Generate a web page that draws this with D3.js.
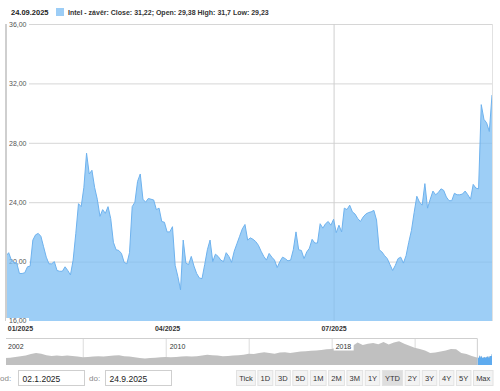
<!DOCTYPE html>
<html>
<head>
<meta charset="utf-8">
<style>
  body { margin: 0; background: #fff; }
  svg { display: block; font-family: "Liberation Sans", Arial, sans-serif; }
  .grid line { stroke: #d6d6d6; }
  .ylab { font-size: 7px; fill: #555; }
  .xlab { font-size: 7px; fill: #333; font-weight: bold; }
</style>
<script src="https://cdn.jsdelivr.net/npm/d3@7/dist/d3.min.js"></script>
</head>
<body>
<svg id="chart" width="500" height="391"></svg>
<script>
// daily closes, 2.1.2025 .. 24.9.2025 (trading days)
var closes = [
  20.37, 20.6, 20.1, 19.95, 19.9, 19.2, 19.2, 19.25, 19.65, 19.7,
  21.45, 21.8, 21.9, 21.7, 21.0, 20.3, 19.85, 19.85, 20.0, 19.4,
  19.35, 19.35, 19.65, 19.4, 19.1, 20.1, 21.9, 23.9, 23.7, 25.0,
  27.3, 25.9, 26.15, 25.0, 24.2, 23.05, 23.5, 23.25, 23.7, 22.9,
  21.3, 20.8, 20.75, 20.55, 19.95, 19.85, 20.6, 23.7, 24.0, 25.4,
  25.9, 24.2, 24.0, 24.25, 24.2, 24.15, 23.5, 23.6, 22.7, 22.65,
  22.0, 22.0, 22.35, 19.75, 19.0, 18.1, 21.45, 19.9, 19.8, 20.35,
  19.7, 19.2, 18.9, 18.85, 19.8, 20.8, 21.45, 20.0, 20.5, 20.35,
  20.1, 20.0, 20.6, 20.35, 19.95, 20.7, 21.2, 21.7, 22.2, 22.5,
  21.45, 21.6, 21.5, 21.35, 21.1, 20.7, 20.35, 20.1, 20.55, 20.3,
  20.1, 19.6, 20.0, 20.3, 20.2, 20.05, 20.1, 20.8, 22.0, 20.8,
  20.75, 20.2, 20.65, 20.9, 21.5, 21.25, 21.25, 22.55, 22.25, 22.55,
  22.7, 22.45, 22.85, 21.95, 22.45, 22.0, 23.6, 23.5, 23.8, 23.35,
  23.2, 22.9, 22.7, 23.0, 23.2, 23.3, 23.35, 23.45, 22.8, 20.8,
  20.65, 20.4, 20.2, 19.8, 19.4, 19.75, 20.2, 20.3, 19.9, 20.4,
  21.3, 22.1, 23.3, 24.4, 24.0, 23.8, 25.25, 23.6, 24.2, 24.75,
  24.5, 24.65, 24.9, 24.8, 24.35, 24.1, 24.1, 24.6, 24.5, 24.5,
  24.55, 24.75, 24.5, 24.2, 25.2, 24.95, 24.9, 30.57, 29.58, 29.34,
  28.76, 31.22
];
var monthLabels = ["01/2025", "04/2025", "07/2025"];
var monthStartIdx = [0, 60, 122];
var vGridIdx = [0, 122];
var yTicks = [16, 20, 24, 28, 32, 36];

// navigator history, quarterly from 2002.25 to 2024.75
var navValues = [
  19, 20, 22,
  24, 26, 30, 33,  31, 27, 25, 26,  25, 26, 25, 23,  21, 22, 23, 24,
  23, 25, 26, 27,  24, 23, 21, 19,  18, 19, 20, 21,  22, 21, 22, 23,
  24, 23, 24, 26,  28, 27, 26, 24,  25, 26, 27, 28,  31, 30, 33, 35,
  33, 31, 34, 35,  33, 35, 37, 38,  39, 40, 41, 43,  44, 48, 50, 49,
  52, 62, 55, 58,  60, 57, 63, 56,  62, 65, 58, 53,  47, 44, 40, 33,
  34, 37, 40, 44,  43, 33, 30, 25
];
var navYears = d3.range(navValues.length).map(function(i) { return 2002.25 + i * 0.25; });
var navLabelYears = [2002, 2010, 2018];
var navGridYears = [2006, 2010, 2014, 2018, 2022];

var headerDate = "24.09.2025";
var legendText = "Intel - závěr: Close: 31,22; Open: 29,38 High: 31,7 Low: 29,23";
var dateFrom = "02.1.2025", dateTo = "24.9.2025";
var rangeButtons = ["Tick", "1D", "3D", "5D", "1M", "2M", "3M", "1Y", "YTD", "2Y", "3Y", "4Y", "5Y", "Max"];
var activeButton = "YTD";

var svg = d3.select("#chart");
var fmt = d3.formatLocale({decimal: ",", thousands: " ", grouping: [3], currency: ["", ""]}).format(".2f");

// ---- header
svg.append("text").attr("x", 11).attr("y", 14.5)
  .style("font-size", "7.5px").style("font-weight", "bold").attr("fill", "#222")
  .text(headerDate);
svg.append("rect").attr("x", 56).attr("y", 8).attr("width", 8).attr("height", 8).attr("fill", "#9ccdf6");
svg.append("text").attr("x", 68).attr("y", 14.5)
  .style("font-size", "7px").style("font-weight", "bold").attr("fill", "#333")
  .text(legendText);

// ---- main chart
var x = d3.scaleLinear().domain([0, closes.length - 1]).range([6, 492]);
var y = d3.scaleLinear().domain([16, 36]).range([321, 24]);

var area = d3.area()
  .x(function(d, i) { return x(i); })
  .y0(y(16))
  .y1(function(d) { return y(d); });
var line = d3.line()
  .x(function(d, i) { return x(i); })
  .y(function(d) { return y(d); });

// horizontal grid + labels
var yAxis = svg.append("g").attr("class", "grid").attr("transform", "translate(29,0)")
  .call(d3.axisRight(y).tickValues(yTicks).tickSize(463).tickFormat(fmt));
yAxis.select(".domain").remove();
yAxis.selectAll("text").attr("class", "ylab").attr("x", -20).attr("dy", "0.32em").style("text-anchor", "start");
yAxis.selectAll(".tick line").attr("stroke", "#d6d6d6");

// vertical grid
svg.append("g").selectAll("line").data(vGridIdx).enter().append("line")
  .attr("x1", function(d) { return x(d) + 0.5; }).attr("x2", function(d) { return x(d) + 0.5; })
  .attr("y1", y(36)).attr("y2", y(16))
  .attr("stroke", "#cfcfcf");

svg.append("path").datum(closes).attr("d", area)
  .attr("fill", "#7cbdf3").attr("fill-opacity", 0.75);
svg.append("path").datum(closes).attr("d", line)
  .attr("fill", "none").attr("stroke", "#6eb2ee").attr("stroke-width", 1);

// borders
svg.append("line").attr("x1", 6).attr("x2", 6).attr("y1", y(36)).attr("y2", y(16))
  .attr("stroke", "#cfcfcf").attr("stroke-width", 2);
svg.append("line").attr("x1", 492.5).attr("x2", 492.5).attr("y1", y(36)).attr("y2", y(16))
  .attr("stroke", "#e2e2e2");

// label box for the bottom y label (drawn over area)
svg.append("rect").attr("x", 6).attr("y", y(16) - 3).attr("width", 23).attr("height", 6).attr("fill", "#fff");
svg.append("text").attr("class", "ylab").attr("x", 9).attr("y", y(16)).attr("dy", "0.32em").text(fmt(16));
yAxis.selectAll(".tick").filter(function(d) { return d === 16; }).remove();

// x axis labels
var xAxis = svg.append("g").attr("transform", "translate(0," + y(16) + ")")
  .call(d3.axisBottom(x).tickValues(monthStartIdx).tickSize(0).tickPadding(5)
    .tickFormat(function(d, i) { return monthLabels[i]; }));
xAxis.select(".domain").remove();
xAxis.selectAll("text").attr("class", "xlab")
  .style("text-anchor", function(d, i) { return i === 0 ? "start" : "middle"; })
  .attr("dx", function(d, i) { return i === 0 ? 1.3 : 0; });

// ---- navigator
var navTop = 338, navBot = 365;
var navX = d3.scaleLinear().domain([2002.3, 2025.73]).range([6, 492]);
var navY = d3.scaleLinear().domain([0, 74]).range([navBot, navTop]);
var idxToNav = d3.scaleLinear().domain([0, closes.length - 1]).range([navX(2025.0), navX(2025.73)]);

var navHist = navYears.map(function(yr, i) { return [navX(yr), navY(navValues[i])]; });
var navCur = closes.map(function(v, i) { return [idxToNav(i), navY(v)]; });
var navArea = d3.area().x(function(d) { return d[0]; }).y0(navBot).y1(function(d) { return d[1]; });

svg.append("g").selectAll("line").data(navGridYears).enter().append("line")
  .attr("x1", function(d) { return navX(d) + 0.5; }).attr("x2", function(d) { return navX(d) + 0.5; })
  .attr("y1", navTop).attr("y2", navBot).attr("stroke", "#dcdcdc");

svg.append("path").datum([[6, navHist[0][1]]].concat(navHist, navCur)).attr("d", navArea).attr("fill", "#c0c0c0");
svg.append("path").datum(navCur).attr("d", navArea).attr("fill", "#5eabef");

svg.append("path")
  .attr("d", "M6," + (navTop + 0.5) + "H" + (navX(2025.0) + 0.5) + "V" + navBot)
  .attr("fill", "none").attr("stroke", "#cfcfcf");

var navLab = svg.append("g").selectAll("g").data(navLabelYears).enter().append("g")
  .attr("transform", function(d) { return "translate(" + Math.max(navX(d) + 3, 7) + ",0)"; });
navLab.append("rect").attr("x", -1).attr("y", 341.5).attr("width", 20).attr("height", 9).attr("fill", "#fff");
navLab.append("text").attr("x", 1).attr("y", 348.5)
  .style("font-size", "7px").attr("fill", "#333").text(function(d) { return d; });

// ---- controls
var ctrl = svg.append("g");
ctrl.append("text").attr("x", 0).attr("y", 380.5).style("font-size", "8px").attr("fill", "#888").text("od:");
ctrl.append("text").attr("x", 89).attr("y", 380.5).style("font-size", "8px").attr("fill", "#888").text("do:");
[[18.5, dateFrom], [105.5, dateTo]].forEach(function(p) {
  ctrl.append("rect").attr("x", p[0]).attr("y", 370.5).attr("width", 66).attr("height", 15)
    .attr("fill", "#fff").attr("stroke", "#cfcfcf");
  ctrl.append("text").attr("x", p[0] + 4).attr("y", 381.5)
    .style("font-size", "8.5px").attr("fill", "#222").text(p[1]);
});

// buttons: measure labels, then spread them over 236..493
var btnStart = 236.5, btnEnd = 493, btnGap = 2.5;
var btns = rangeButtons.map(function(lbl) {
  var g = ctrl.append("g");
  var r = g.append("rect").attr("y", 370.5).attr("height", 15)
    .attr("fill", lbl === activeButton ? "#dedede" : "#f3f3f3").attr("stroke", "#e2e2e2");
  var t = g.append("text").attr("y", 381).style("font-size", "7.5px").attr("fill", "#333")
    .style("text-anchor", "middle").text(lbl);
  return {r: r, t: t, w: t.node().getComputedTextLength()};
});
var textSum = d3.sum(btns, function(b) { return b.w; });
var pad = (btnEnd - btnStart - btnGap * (btns.length - 1) - textSum) / btns.length;
var bx = btnStart;
btns.forEach(function(b) {
  var w = b.w + pad;
  b.r.attr("x", bx).attr("width", w);
  b.t.attr("x", bx + w / 2);
  bx += w + btnGap;
});
</script>
</body>
</html>
